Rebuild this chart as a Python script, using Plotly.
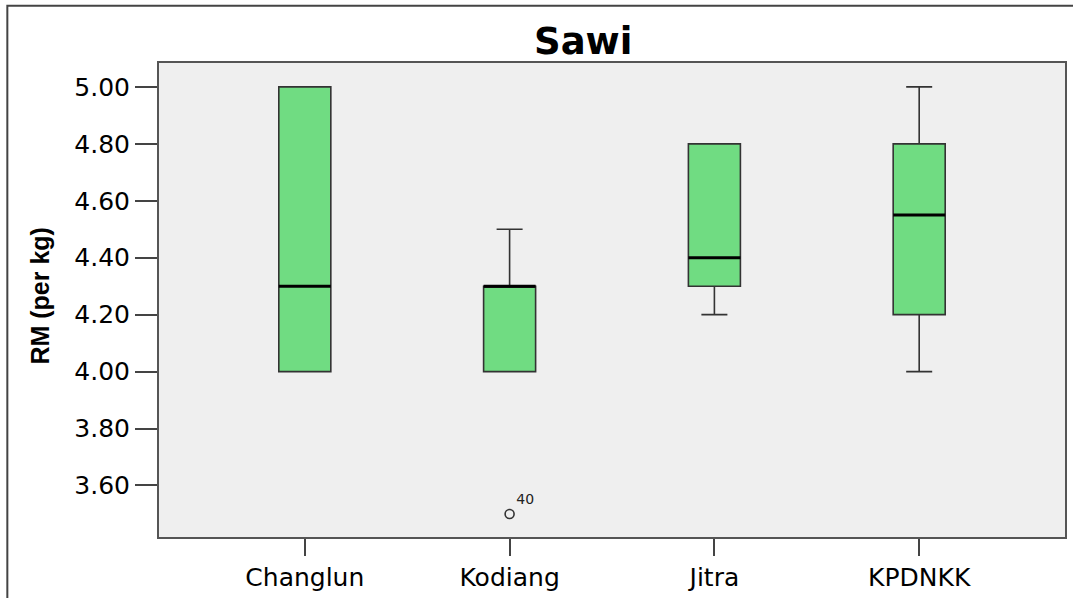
import plotly.graph_objects as go

categories = ["Changlun", "Kodiang", "Jitra", "KPDNKK"]
lower_whisker = [4.00, 4.00, 4.20, 4.00]
q1_vals = [4.00, 4.00, 4.30, 4.20]
medians = [4.30, 4.30, 4.40, 4.55]
q3_vals = [5.00, 4.30, 4.80, 4.80]
upper_whisker = [5.00, 4.50, 4.80, 5.00]
outlier_cat = [1]
outlier_val = [3.50]
outlier_label = ["40"]
y_ticks = [3.60, 3.80, 4.00, 4.20, 4.40, 4.60, 4.80, 5.00]

positions = list(range(len(categories)))
BOX_W = 0.254
FILL = "#70DC82"
EDGE = "#333333"

fig = go.Figure()
fig.add_trace(go.Box(
    x=positions, q1=q1_vals, median=medians, q3=q3_vals,
    lowerfence=lower_whisker, upperfence=upper_whisker,
    width=BOX_W, whiskerwidth=0.5,
    fillcolor=FILL, line=dict(color=EDGE, width=1.6),
    boxpoints=False, showlegend=False, hoverinfo="skip",
))
# thicker median lines
for p, m in zip(positions, medians):
    fig.add_trace(go.Scatter(
        x=[p - BOX_W / 2, p + BOX_W / 2], y=[m, m], mode="lines",
        line=dict(color="black", width=3), showlegend=False, hoverinfo="skip",
    ))
fig.add_trace(go.Scatter(
    x=outlier_cat, y=outlier_val, mode="markers+text",
    text=outlier_label, textposition="top right",
    textfont=dict(family="DejaVu Sans", size=14, color="#222222"),
    marker=dict(symbol="circle-open", size=9, color="#333333", line=dict(width=1.6)),
    showlegend=False, hoverinfo="skip",
))

fig.update_layout(
    width=1073, height=598,
    margin=dict(l=159, r=6, t=63, b=54),
    paper_bgcolor="white", plot_bgcolor="#EFEFEF",
    xaxis=dict(
        range=[-0.712, 3.712], tickvals=positions, ticktext=categories,
        ticks="outside", ticklen=17, tickwidth=2, tickcolor="#444444",
        showgrid=False, zeroline=False, showline=True, linewidth=2, linecolor="#555555",
        mirror=True, tickfont=dict(family="DejaVu Sans", size=25, color="black"),
    ),
    yaxis=dict(
        range=[3.419, 5.084], tickvals=y_ticks, tickformat=".2f",
        ticks="outside", ticklen=22, tickwidth=2, tickcolor="#444444",
        showgrid=False, zeroline=False, showline=True, linewidth=2, linecolor="#555555",
        mirror=True, tickfont=dict(family="DejaVu Sans", size=25, color="black"),
    ),
    annotations=[
        dict(text="<b>Sawi</b>", x=0.468, y=1.045, xref="paper", yref="paper",
             xanchor="center", yanchor="middle", showarrow=False,
             font=dict(family="DejaVu Sans", size=37, color="black")),
        dict(text="<b>RM (per kg)</b>", x=-0.131, y=0.51, xref="paper", yref="paper",
             xanchor="center", yanchor="middle", showarrow=False, textangle=-90,
             font=dict(family="Liberation Sans", size=25, color="black")),
    ],
    shapes=[
        dict(type="rect", xref="paper", yref="paper",
             x0=(7 - 159) / 908, x1=1.2, y0=-0.3, y1=(544 - 5) / 481,
             line=dict(color="#444444", width=2), fillcolor="rgba(0,0,0,0)", layer="below"),
    ],
)

fig.write_html("out.html", config={"displayModeBar": False},
               post_script="document.body.style.margin='0';document.body.style.overflow='hidden';")
